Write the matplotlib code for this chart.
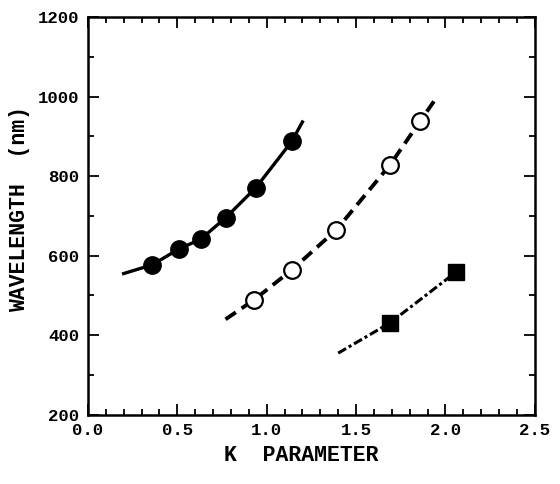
import matplotlib.pyplot as plt
from matplotlib.ticker import MultipleLocator

# measured points
k_filled = [0.36, 0.51, 0.63, 0.77, 0.94, 1.14]
wl_filled = [577, 617, 641, 695, 771, 887]
k_open = [0.93, 1.14, 1.39, 1.69, 1.86]
wl_open = [489, 564, 665, 828, 939]
k_square = [1.69, 2.06]
wl_square = [431, 559]

# fitted curves as drawn on the figure
fit1_k = [0.20, 0.36, 0.51, 0.63, 0.77, 0.94, 1.14, 1.20]
fit1_wl = [555, 577, 617, 641, 695, 771, 887, 936]
fit2_k = [0.77, 0.93, 1.14, 1.39, 1.69, 1.86, 1.95]
fit2_wl = [440, 489, 564, 665, 828, 939, 997]
fit3_k = [1.40, 1.69, 2.06]
fit3_wl = [355, 431, 559]

plt.rcParams['font.family'] = ['Liberation Mono', 'DejaVu Sans Mono']
plt.rcParams['font.weight'] = 'bold'

fig = plt.figure(figsize=(5.6, 4.84), dpi=100)
ax = fig.add_axes([0.157, 0.143, 0.798, 0.822])

ax.plot(fit1_k, fit1_wl, color='black', lw=2.4, ls='-')
ax.plot(fit2_k, fit2_wl, color='black', lw=2.8, ls=(0, (3.2, 1.8)))
ax.plot(fit3_k, fit3_wl, color='black', lw=2.2, ls=(0, (3, 1, 1, 1)))

ax.plot(k_filled, wl_filled, 'o', color='black', ms=12.5, ls='none')
ax.plot(k_open, wl_open, 'o', mfc='white', mec='black', mew=1.6, ms=12, ls='none')
ax.plot(k_square, wl_square, 's', color='black', ms=12, ls='none')

ax.set_xlim(0, 2.5)
ax.set_ylim(200, 1200)
ax.xaxis.set_major_locator(MultipleLocator(0.5))
ax.xaxis.set_minor_locator(MultipleLocator(0.1))
ax.yaxis.set_major_locator(MultipleLocator(200))
ax.yaxis.set_minor_locator(MultipleLocator(100))
ax.set_xticks([0, 0.5, 1.0, 1.5, 2.0, 2.5])
ax.set_xticklabels(['0.0', '0.5', '1.0', '1.5', '2.0', '2.5'])
ax.tick_params(which='both', direction='in', top=True, right=True, width=1.3,
               labelsize=12.5, pad=6)
ax.tick_params(which='major', length=8)
ax.tick_params(which='minor', length=4)
for s in ax.spines.values():
    s.set_linewidth(1.8)

ax.set_xlabel('K  PARAMETER', fontsize=15.5, fontweight='bold')
ax.set_ylabel('WAVELENGTH  (nm)', fontsize=15.5, fontweight='bold')
ax.xaxis.set_label_coords(0.477, -0.075)
ax.yaxis.set_label_coords(-0.13, 0.518)

fig.savefig('out.png', dpi=100)
